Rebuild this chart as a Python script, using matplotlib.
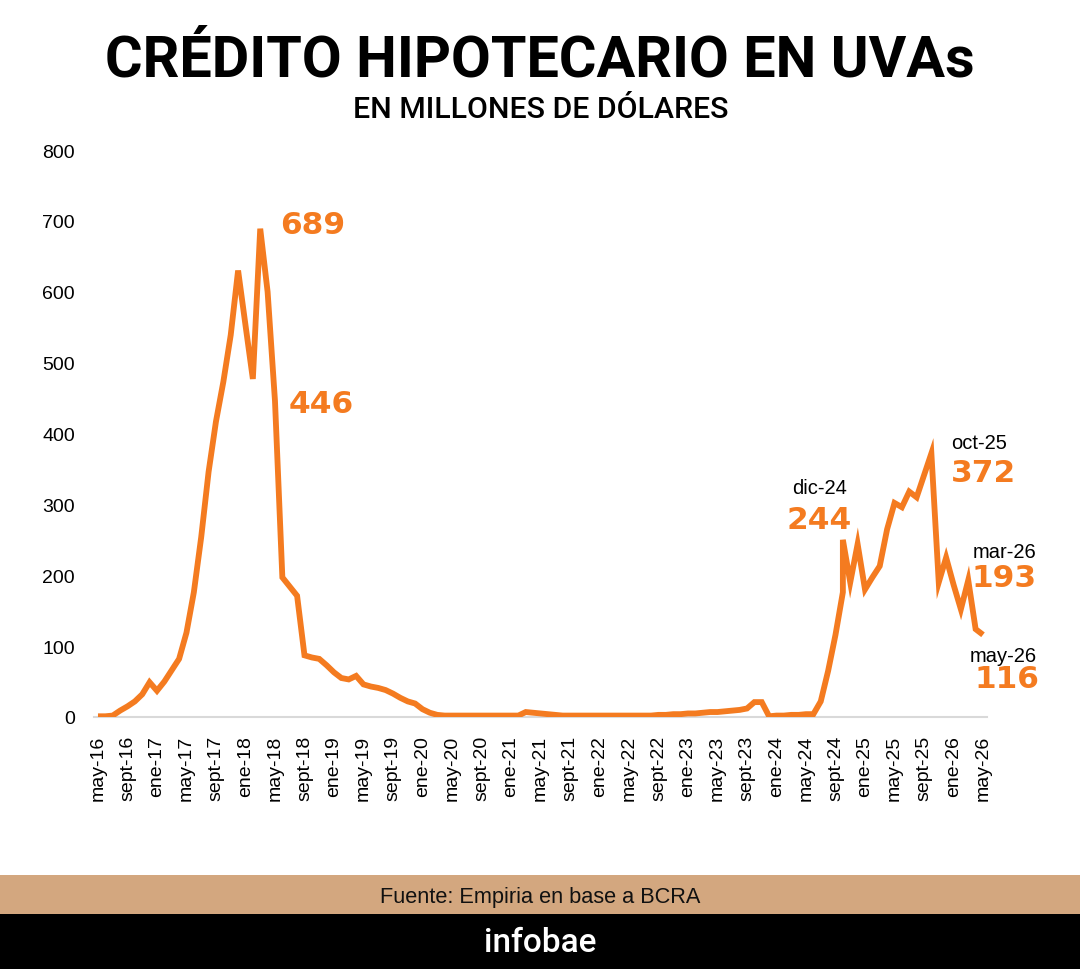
import numpy as np
import matplotlib.pyplot as plt
from matplotlib import font_manager
from matplotlib.patches import Rectangle

# Datos: crédito hipotecario UVA, millones de USD, mensual may-16 a may-26
MESES = ['ene', 'feb', 'mar', 'abr', 'may', 'jun', 'jul', 'ago', 'sept', 'oct', 'nov', 'dic']

valores = [
    1, 1, 2, 9, 15, 22, 32, 49, 37, 50,
    66, 82, 119, 176, 254, 346, 417, 473, 539, 630,
    553, 477, 689, 600, 446, 197, 184, 171, 87, 84,
    82, 73, 63, 55, 53, 58, 46, 43, 41, 38,
    33, 27, 22, 19, 11, 6, 3, 2, 2, 2,
    2, 2, 2, 2, 2, 2, 2, 2, 7, 6,
    5, 4, 3, 2, 2, 2, 2, 2, 2, 2,
    2, 2, 2, 2, 2, 2, 3, 3, 4, 4,
    5, 5, 6, 7, 7, 8, 9, 10, 12, 21,
    21, 1, 2, 2, 3, 3, 4, 4, 22, 65,
    116, 176, 190, 244, 180, 197, 213, 265, 302, 296,
    318, 310, 341, 372, 190, 225, 187, 152, 193, 124, 116,
]
# oct-24 aparece dos veces en la serie (salto vertical)
idx_doble = 101
valor_doble = 250

# puntos destacados (indice del mes) y si llevan el nombre del mes
idx_destacados = [22, 24, 103, 113, 118, 120]
con_mes = [False, False, True, True, True, True]

etiquetas = []
anio, mes = 2016, 4
for _ in valores:
    etiquetas.append(f"{MESES[mes]}-{anio % 100:02d}")
    mes += 1
    if mes == 12:
        mes = 0
        anio += 1

NARANJA = '#F47B20'
TOSTADO = '#D3A77F'

disponibles = {f.name for f in font_manager.fontManager.ttflist}
if 'Liberation Sans Narrow' in disponibles:
    angosta = dict(family='Liberation Sans Narrow')
    t_size, s_size, i_size = 46, 24, 27
else:
    angosta = dict(family='Roboto')
    t_size, s_size, i_size = 41.5, 21.8, 24
ARIAL = 'Liberation Sans'

fig = plt.figure(figsize=(10.8, 9.7), dpi=100)
ax = fig.add_axes([0.0873, 0.2598, 0.8263, 0.5845])

xs = np.insert(np.arange(len(valores)), idx_doble + 1, idx_doble)
ys = np.insert(np.array(valores), idx_doble + 1, valor_doble)
ax.plot(xs, ys, color=NARANJA, lw=4.2, solid_joinstyle='miter',
        solid_capstyle='butt', zorder=3)

ax.set_xlim(-0.5, len(valores) - 0.5)
ax.set_ylim(0, 800)
ax.set_yticks(range(0, 801, 100))
ticks = list(range(0, len(valores), 4))
ax.set_xticks(ticks)
ax.set_xticklabels([etiquetas[t] for t in ticks], rotation=90, family=ARIAL, fontsize=14)
for lab in ax.get_yticklabels():
    lab.set_family(ARIAL)
    lab.set_fontsize(14)
ax.tick_params(axis='both', length=0)
ax.tick_params(axis='y', pad=14)
ax.tick_params(axis='x', pad=13)
for s in ['top', 'right', 'left']:
    ax.spines[s].set_visible(False)
ax.spines['bottom'].set_color('#d9d9d9')
ax.spines['bottom'].set_linewidth(1.5)

# desplazamientos (px) de numero y mes respecto del punto
desp_num = {22: (52, 4), 24: (46, -3), 103: (-38, 25), 113: (52, -19),
            118: (36, 3), 120: (24, -44)}
desp_mes = {103: (-38, 57), 113: (48, 11), 118: (36, 29), 120: (20, -21)}

for i, m in zip(idx_destacados, con_mes):
    v = valores[i]
    ax.annotate(str(v), xy=(i, v), xytext=desp_num[i], textcoords='offset pixels',
                ha='center', va='center', fontsize=22.5, fontweight='bold',
                family='DejaVu Sans', color=NARANJA, annotation_clip=False)
    if m:
        ax.annotate(etiquetas[i], xy=(i, v), xytext=desp_mes[i], textcoords='offset pixels',
                    ha='center', va='center', fontsize=14.5, family=ARIAL,
                    color='black', annotation_clip=False)

fig.text(0.5, 1 - 61 / 970, 'CRÉDITO HIPOTECARIO EN UVAs', ha='center', va='center',
         fontsize=t_size, fontweight='bold', **angosta)
fig.text(0.501, 1 - 110 / 970, 'EN MILLONES DE DÓLARES', ha='center', va='center',
         fontsize=s_size, fontweight='medium', **angosta)

fig.patches.append(Rectangle((0, 55 / 970), 1, 39 / 970, transform=fig.transFigure,
                             facecolor=TOSTADO, edgecolor='none', zorder=0))
fig.patches.append(Rectangle((0, 0), 1, 55 / 970, transform=fig.transFigure,
                             facecolor='black', edgecolor='none', zorder=0))
fig.text(0.5, 1 - 898 / 970, 'Fuente: Empiria en base a BCRA', ha='center', va='center',
         fontsize=15.7, family=ARIAL, color='#111111')
fig.text(0.5, 1 - 943 / 970, 'infobae', ha='center', va='center',
         fontsize=i_size, fontweight='medium', color='white', **angosta)

fig.savefig('out.png', dpi=100)
